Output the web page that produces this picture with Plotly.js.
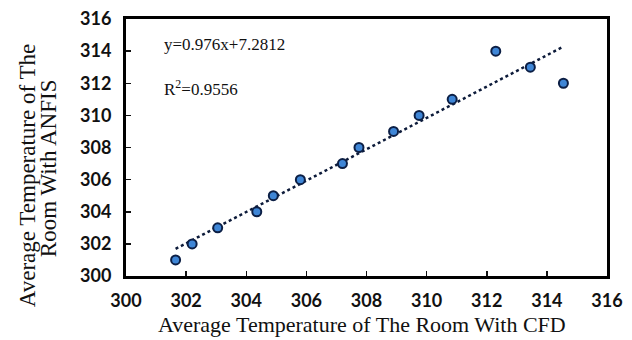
<!DOCTYPE html>
<html>
<head>
<meta charset="utf-8">
<script src="https://cdn.plot.ly/plotly-3.0.1.min.js"></script>
<style>
  html, body { margin: 0; padding: 0; background: #fff; }
  #chart { width: 632px; height: 340px; }
</style>
</head>
<body>
<div id="chart"></div>
<script>
// Room temperature: CFD simulation vs ANFIS prediction
const cfdTemp   = [301.65, 302.2, 303.05, 304.35, 304.9, 305.8, 307.2, 307.75, 308.9, 309.75, 310.85, 312.3, 313.45, 314.55];
const anfisTemp = [301, 302, 303, 304, 305, 306, 307, 308, 309, 310, 311, 314, 313, 312];

// Linear fit reported on the chart
const slope = 0.976;
const intercept = 7.2812;
const rSquared = 0.9556;

const xMin = Math.min(...cfdTemp);
const xMax = Math.max(...cfdTemp);
const fitX = [xMin, xMax];
const fitY = fitX.map(x => slope * x + intercept);

const tickVals = [300, 302, 304, 306, 308, 310, 312, 314, 316];
const xTitle = 'Average Temperature of The Room With CFD';
const yTitleLines = ['Average Temperature of The', 'Room With ANFIS'];

const tickFont = { family: 'Lato, "Open Sans", sans-serif', size: 18, color: '#111', weight: 700 };
const serif = '"Liberation Serif", "DejaVu Serif", serif';

const traces = [
  {
    x: fitX, y: fitY, mode: 'lines', type: 'scatter',
    line: { color: '#0d1b3a', width: 2.5, dash: 'dot' },
    hoverinfo: 'skip'
  },
  {
    x: cfdTemp, y: anfisTemp, mode: 'markers', type: 'scatter',
    marker: { size: 9, color: '#3f86d6', line: { color: '#0c1f45', width: 2 } }
  }
];

const layout = {
  width: 632, height: 340,
  margin: { l: 126, r: 25, t: 19, b: 64 },
  paper_bgcolor: '#fff', plot_bgcolor: '#fff',
  showlegend: false,
  xaxis: {
    range: [300, 316], tickvals: tickVals, ticktext: tickVals.map(String),
    ticks: 'inside', ticklen: 5, tickwidth: 1.5, tickcolor: '#111',
    showgrid: false, zeroline: false,
    showline: true, linecolor: '#000', linewidth: 3, mirror: true,
    tickfont: tickFont, ticklabelstandoff: 6
  },
  yaxis: {
    range: [300, 316], tickvals: tickVals, ticktext: tickVals.map(String),
    ticks: 'inside', ticklen: 5, tickwidth: 1.5, tickcolor: '#111',
    showgrid: false, zeroline: false,
    showline: true, linecolor: '#000', linewidth: 3, mirror: true,
    tickfont: tickFont, ticklabelstandoff: 8
  },
  annotations: [
    // horizontal axis title
    {
      xref: 'paper', yref: 'paper', x: 0.49, y: -0.19, xanchor: 'center', yanchor: 'middle',
      text: xTitle, showarrow: false,
      font: { family: serif, size: 22, color: '#111' }
    },
    // two-line vertical axis title, set tight
    {
      xref: 'paper', yref: 'paper', x: -0.205, y: 0.39, xanchor: 'center', yanchor: 'middle',
      text: yTitleLines[0], textangle: -90, showarrow: false,
      font: { family: serif, size: 23, color: '#111' }
    },
    {
      xref: 'paper', yref: 'paper', x: -0.162, y: 0.42, xanchor: 'center', yanchor: 'middle',
      text: yTitleLines[1], textangle: -90, showarrow: false,
      font: { family: serif, size: 23, color: '#111' }
    },
    {
      xref: 'paper', yref: 'paper', x: 0.074, y: 0.899, xanchor: 'left', yanchor: 'middle',
      text: 'y=' + slope + 'x+' + intercept, showarrow: false,
      font: { family: serif, size: 17, color: '#111' }
    },
    {
      xref: 'paper', yref: 'paper', x: 0.074, y: 0.731, xanchor: 'left', yanchor: 'middle',
      text: 'R<sup>2</sup>=' + rSquared, showarrow: false,
      font: { family: serif, size: 17, color: '#111' }
    }
  ]
};

Plotly.newPlot('chart', traces, layout, { displayModeBar: false, staticPlot: true });
</script>
</body>
</html>
